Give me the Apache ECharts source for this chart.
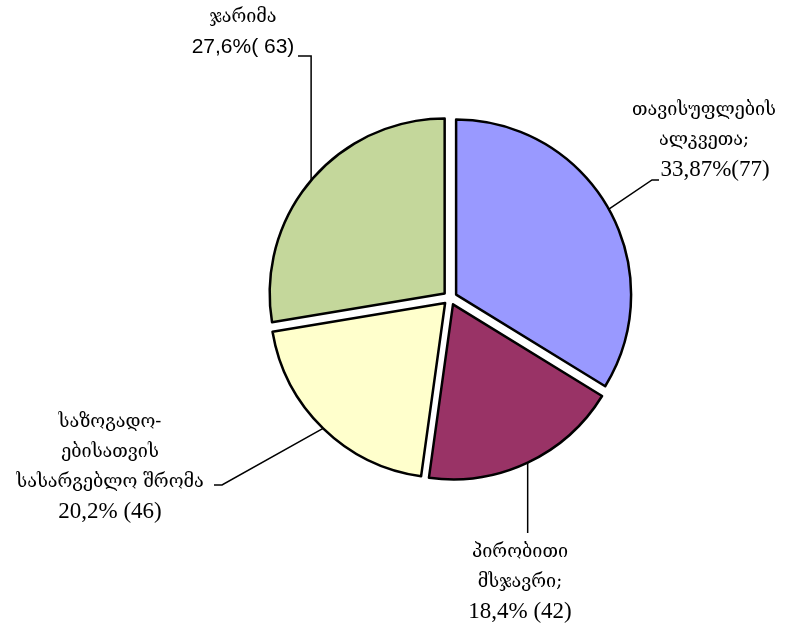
<!DOCTYPE html>
<html>
<head>
<meta charset="utf-8">
<script src="https://cdn.jsdelivr.net/npm/echarts@6/dist/echarts.min.js"></script>
<style>
    html, body { margin: 0; padding: 0; background: #fff; }
    #container { width: 812px; height: 628px; }
</style>
</head>
<body>
<div id="container"></div>
<script>
/* data */
const names = ['თავისუფლების\nალკვეთა;', 'პირობითი\nმსჯავრი;', 'საზოგადო-\nებისათვის\nსასარგებლო შრომა', 'ჯარიმა'];
const values = [77, 42, 46, 63];
const percentLabels = ['33,87%(77)', '18,4% (42)', '20,2% (46)', '27,6%( 63)'];
const colors = ['#9999FF', '#993366', '#FFFFCC', '#C4D79B'];

/* layout */
const pieCenter = [450, 298];
const pieRadius = 175;
const pieOffset = 7;
const labelPos = [[704, 140], [520, 582], [110, 467], [243, 32]];
const numStyles = ['nb', 'n', 'n', 's'];
// leader line points after the slice anchor; null x = keep anchor x (vertical segment)
const leaderPts = [
    [[652, 180], [659, 180]],
    [[null, 533]],
    [[222, 485], [214, 485]],
    [[null, 56], [298, 56]]
];

function pie_img() {
    const dom = document.getElementById("container");
    const myChart = echarts.init(dom);
    const total = values.reduce(function (a, b) { return a + b; }, 0);

    const data = values.map(function (v, i) {
        return { value: v, name: names[i], selected: true, itemStyle: { color: colors[i] } };
    });

    // leader lines + labels
    const graphics = [];
    let acc = 0;
    values.forEach(function (v, i) {
        const mid = (acc + v / 2) / total * Math.PI * 2; // clockwise from top
        acc += v;
        const dx = Math.sin(mid), dy = -Math.cos(mid);
        const r = pieRadius + pieOffset;
        const anchor = [pieCenter[0] + dx * r, pieCenter[1] + dy * r];
        const pts = [anchor];
        leaderPts[i].forEach(function (p) {
            pts.push([p[0] === null ? anchor[0] : p[0], p[1]]);
        });
        graphics.push({
            type: 'polyline',
            z: 10,
            shape: { points: pts },
            style: { stroke: '#000', lineWidth: 1.5, fill: null }
        });
        graphics.push({
            type: 'text',
            z: 10,
            x: labelPos[i][0],
            y: labelPos[i][1],
            style: {
                text: names[i] + '\n{' + numStyles[i] + '|' + percentLabels[i] + '}',
                fill: '#000',
                font: '18px "DejaVu Serif", "Liberation Serif", serif',
                lineHeight: 30,
                align: 'center',
                verticalAlign: 'middle',
                rich: {
                    n: { fontFamily: '"Liberation Serif", serif', fontSize: 23, lineHeight: 30 },
                    nb: { fontFamily: '"Liberation Serif", serif', fontSize: 23, lineHeight: 30, padding: [0, 0, 0, 22] },
                    s: { fontFamily: '"Liberation Sans", Arial, sans-serif', fontSize: 21, lineHeight: 30 }
                }
            }
        });
    });

    const option = {
        animation: false,
        series: [
            {
                type: 'pie',
                center: pieCenter,
                radius: pieRadius,
                startAngle: 90,
                selectedMode: 'multiple',
                selectedOffset: pieOffset,
                emphasis: { disabled: true },
                itemStyle: { borderColor: '#000', borderWidth: 2.5 },
                label: { show: false },
                labelLine: { show: false },
                data: data
            }
        ],
        graphic: graphics
    };
    myChart.setOption(option, true);
}
pie_img();
</script>
</body>
</html>
